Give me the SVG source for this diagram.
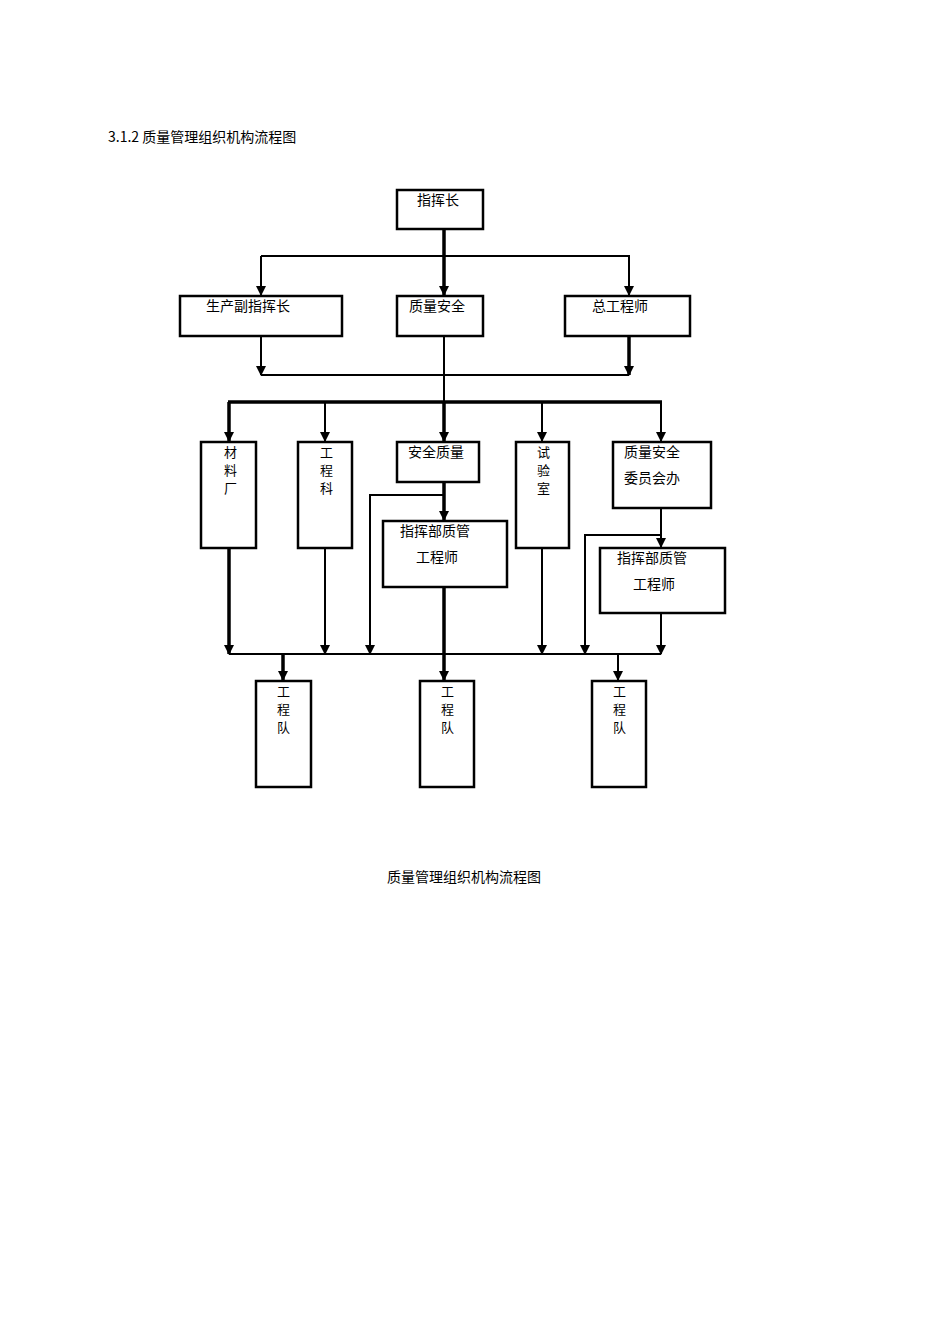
<svg xmlns="http://www.w3.org/2000/svg" width="950" height="1344" viewBox="0 0 950 1344">
<defs>
<style>
.b{fill:#fff;stroke:#000;stroke-width:2.5}
.t{font-family:"Noto Sans CJK SC","Liberation Serif",serif;font-size:14px;fill:#000}
.v{font-family:"Noto Sans CJK SC","Liberation Serif",serif;font-size:13px;fill:#000}
.c line,.c polyline{stroke:#000;stroke-width:2;fill:none}
.c .k{stroke-width:3.5}
</style>
<marker id="d" viewBox="0 0 10 10" markerWidth="10" markerHeight="10" refX="9" refY="5" orient="auto" markerUnits="userSpaceOnUse"><path d="M0,0 L10,5 L0,10 Z" fill="#000"/></marker>
</defs>
<rect width="950" height="1344" fill="#fff"/>
<text class="t" x="108" y="142" font-family="Liberation Mono,Noto Sans CJK SC,monospace">3.1.2 质量管理组织机构流程图</text>
<g class="c">
<line class="k" x1="444" y1="229" x2="444" y2="295" marker-end="url(#d)"/>
<polyline points="261,256 629,256 629,295" stroke-width="3" marker-end="url(#d)"/>
<line x1="261" y1="256" x2="261" y2="295" marker-end="url(#d)"/>
<line x1="261" y1="336" x2="261" y2="375" marker-end="url(#d)"/>
<line class="k" x1="629" y1="336" x2="629" y2="375" marker-end="url(#d)"/>
<line x1="261" y1="375" x2="629" y2="375"/>
<line x1="444" y1="336" x2="444" y2="402" stroke-width="3"/>
<line class="k" x1="228" y1="402" x2="662" y2="402"/>
<line class="k" x1="229" y1="402" x2="229" y2="441" marker-end="url(#d)"/>
<line x1="325" y1="402" x2="325" y2="441" marker-end="url(#d)"/>
<line class="k" x1="444" y1="402" x2="444" y2="441" marker-end="url(#d)"/>
<line x1="542" y1="402" x2="542" y2="441" marker-end="url(#d)"/>
<line x1="661" y1="402" x2="661" y2="441" marker-end="url(#d)"/>
<line class="k" x1="444" y1="482" x2="444" y2="520" marker-end="url(#d)"/>
<polyline points="444,495 370,495 370,654" marker-end="url(#d)"/>
<line x1="661" y1="508" x2="661" y2="547" marker-end="url(#d)"/>
<polyline points="661,535 585,535 585,654" marker-end="url(#d)"/>
<line x1="661" y1="613" x2="661" y2="654" marker-end="url(#d)"/>
<line class="k" x1="229" y1="548" x2="229" y2="654" marker-end="url(#d)"/>
<line x1="325" y1="548" x2="325" y2="654" marker-end="url(#d)"/>
<line x1="542" y1="548" x2="542" y2="654" marker-end="url(#d)"/>
<line x1="229" y1="654" x2="661" y2="654"/>
<line class="k" x1="444" y1="587" x2="444" y2="680" marker-end="url(#d)"/>
<line class="k" x1="283" y1="654" x2="283" y2="680" marker-end="url(#d)"/>
<line x1="618" y1="654" x2="618" y2="680" marker-end="url(#d)"/>
</g>
<g id="n1"><rect class="b" x="397" y="190" width="86" height="39"/><text class="t" x="417" y="205">指挥长</text></g>
<g id="n2"><rect class="b" x="180" y="296" width="162" height="40"/><text class="t" x="206" y="311">生产副指挥长</text></g>
<g id="n3"><rect class="b" x="397" y="296" width="86" height="40"/><text class="t" x="409" y="311">质量安全</text></g>
<g id="n4"><rect class="b" x="565" y="296" width="125" height="40"/><text class="t" x="592" y="311">总工程师</text></g>
<g id="n5"><rect class="b" x="201" y="442" width="55" height="106"/><text class="v" x="224" y="457">材</text><text class="v" x="224" y="475">料</text><text class="v" x="224" y="493">厂</text></g>
<g id="n6"><rect class="b" x="298" y="442" width="54" height="106"/><text class="v" x="320" y="457">工</text><text class="v" x="320" y="475">程</text><text class="v" x="320" y="493">科</text></g>
<g id="n7"><rect class="b" x="397" y="442" width="82" height="40"/><text class="t" x="408" y="457">安全质量</text></g>
<g id="n8"><rect class="b" x="516" y="442" width="53" height="106"/><text class="v" x="537" y="457">试</text><text class="v" x="537" y="475">验</text><text class="v" x="537" y="493">室</text></g>
<g id="n9"><rect class="b" x="613" y="442" width="98" height="66"/><text class="t" x="624" y="457">质量安全</text><text class="t" x="624" y="483">委员会办</text></g>
<g id="n10"><rect class="b" x="383" y="521" width="124" height="66"/><text class="t" x="400" y="536">指挥部质管</text><text class="t" x="416" y="562">工程师</text></g>
<g id="n11"><rect class="b" x="600" y="548" width="125" height="65"/><text class="t" x="617" y="563">指挥部质管</text><text class="t" x="633" y="589">工程师</text></g>
<g id="n12"><rect class="b" x="256" y="681" width="55" height="106"/><text class="v" x="277" y="696">工</text><text class="v" x="277" y="714">程</text><text class="v" x="277" y="732">队</text></g>
<g id="n13"><rect class="b" x="420" y="681" width="54" height="106"/><text class="v" x="441" y="696">工</text><text class="v" x="441" y="714">程</text><text class="v" x="441" y="732">队</text></g>
<g id="n14"><rect class="b" x="592" y="681" width="54" height="106"/><text class="v" x="613" y="696">工</text><text class="v" x="613" y="714">程</text><text class="v" x="613" y="732">队</text></g>
<text class="t" x="464" y="882" text-anchor="middle">质量管理组织机构流程图</text>
</svg>
